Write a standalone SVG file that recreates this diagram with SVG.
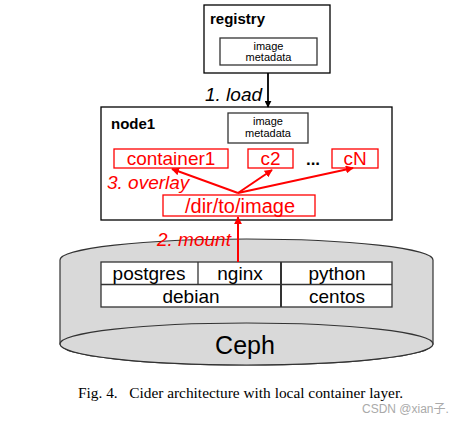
<svg xmlns="http://www.w3.org/2000/svg" width="469" height="425" viewBox="0 0 469 425">
<style>
.box{fill:#fff;stroke:#000;stroke-width:1.3}
.inner{fill:#fff;stroke:#333;stroke-width:1.3}
.rbox{fill:#fff;stroke:#ff0000;stroke-width:1.3}
.t{font-family:"Liberation Sans",Arial,sans-serif;fill:#000}
.b{font-weight:bold;font-size:15px}
.sm{font-size:11px}
.red{fill:#ff0000}
.it{font-style:italic;font-size:19px}
.mid{text-anchor:middle}
.big{font-size:19px}
.cap{font-family:"Liberation Serif","Times New Roman",serif;font-size:14.5px;fill:#000}
</style>
<defs>
<marker id="ab" viewBox="0 0 10 10" refX="9" refY="5" markerWidth="7" markerHeight="7" orient="auto" markerUnits="userSpaceOnUse"><path d="M0,0L10,5L0,10z" fill="#000"/></marker>
<marker id="ar" viewBox="0 0 10 10" refX="9" refY="5" markerWidth="8" markerHeight="8" orient="auto" markerUnits="userSpaceOnUse"><path d="M0,0L10,5L0,10z" fill="#ff0000"/></marker>
</defs>
<rect width="469" height="425" fill="#fff"/>

<g id="ceph">
<path d="M60,260 L60,344 A186.5,21 0 0 0 433,344 L433,260 A186.5,21 0 0 0 60,260 Z" fill="#d9d9d9" stroke="#333" stroke-width="1.2"/>
<ellipse cx="246.5" cy="344" rx="186.5" ry="21" fill="#d9d9d9" stroke="#333" stroke-width="1.2"/>
<text class="t mid" x="245" y="354" font-size="25">Ceph</text>
</g>

<g id="layers">
<rect x="101" y="262" width="291" height="45" fill="#fff" stroke="#333" stroke-width="1.3"/>
<line x1="101" y1="284.5" x2="392" y2="284.5" stroke="#333" stroke-width="1.3"/>
<line x1="198" y1="262" x2="198" y2="284.5" stroke="#333" stroke-width="1.3"/>
<line x1="281" y1="262" x2="281" y2="307" stroke="#333" stroke-width="2"/>
<text class="t mid big" x="149" y="280">postgres</text>
<text class="t mid big" x="240" y="280">nginx</text>
<text class="t mid big" x="337" y="280">python</text>
<text class="t mid big" x="191" y="303">debian</text>
<text class="t mid big" x="337" y="303">centos</text>
</g>

<g id="registry">
<rect class="box" x="204" y="5" width="126" height="68"/>
<text class="t b" x="210" y="24">registry</text>
<rect class="inner" x="220" y="38" width="97" height="27"/>
<text class="t sm mid" x="268.5" y="50">image</text>
<text class="t sm mid" x="268.5" y="61">metadata</text>
</g>

<g id="node1">
<rect class="box" x="101" y="107" width="291" height="113"/>
<text class="t b" x="111" y="129">node1</text>
<rect class="inner" x="228" y="113" width="80" height="30"/>
<text class="t sm mid" x="268" y="125">image</text>
<text class="t sm mid" x="268" y="137">metadata</text>
</g>

<g id="container1">
<rect class="rbox" x="114" y="149" width="114" height="19"/>
<text class="t red mid big" x="171" y="165">container1</text>
</g>
<g id="c2">
<rect class="rbox" x="248" y="149" width="45" height="19"/>
<text class="t red mid big" x="270.5" y="165">c2</text>
</g>
<text class="t mid" x="313" y="165" font-size="17" font-weight="bold">...</text>
<g id="cN">
<rect class="rbox" x="332" y="149" width="46" height="19"/>
<text class="t red mid big" x="355" y="165">cN</text>
</g>
<g id="image">
<rect class="rbox" x="163" y="195" width="152" height="21"/>
<text class="t red mid" x="240" y="213" font-size="20">/dir/to/image</text>
</g>

<g id="connectors">
<line x1="268" y1="73" x2="268" y2="107" stroke="#000" stroke-width="1.8" marker-end="url(#ab)"/>
<text class="t it" x="205" y="101">1. load</text>
<line x1="238" y1="193" x2="172" y2="169" stroke="#ff0000" stroke-width="2" marker-end="url(#ar)"/>
<line x1="238" y1="193" x2="272" y2="170" stroke="#ff0000" stroke-width="2" marker-end="url(#ar)"/>
<line x1="238" y1="193" x2="353" y2="168" stroke="#ff0000" stroke-width="2" marker-end="url(#ar)"/>
<text class="t it red" x="107" y="189">3. overlay</text>
<line x1="238" y1="262" x2="238" y2="217" stroke="#ff0000" stroke-width="2" marker-end="url(#ar)"/>
<text class="t it red" x="157" y="246">2. mount</text>
</g>

<text class="cap" x="78" y="398" textLength="325" lengthAdjust="spacingAndGlyphs" xml:space="preserve">Fig. 4.   Cider architecture with local container layer.</text>
<text x="362" y="413" font-family="Liberation Sans,'Noto Sans CJK SC',sans-serif" font-size="12" fill="#aaa">CSDN @xian子.</text>
</svg>
